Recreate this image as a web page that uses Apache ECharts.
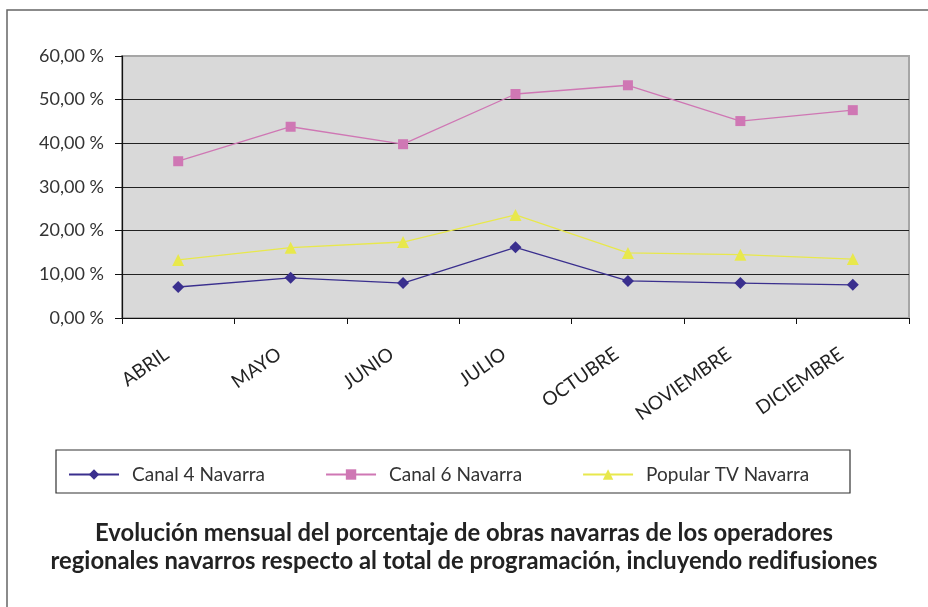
<!DOCTYPE html>
<html>
<head>
<meta charset="utf-8">
<script src="https://cdn.jsdelivr.net/npm/echarts@6/dist/echarts.min.js"></script>
<style>html,body{margin:0;padding:0;background:#fff}#c{width:928px;height:607px}</style>
</head>
<body>
<div id="c"></div>
<script>
const categories = ['ABRIL','MAYO','JUNIO','JULIO','OCTUBRE','NOVIEMBRE','DICIEMBRE'];
const canal4 = [7.1, 9.2, 8.0, 16.2, 8.5, 8.0, 7.6];
const canal6 = [35.9, 43.8, 39.8, 51.3, 53.3, 45.1, 47.6];
const popularTV = [13.3, 16.1, 17.4, 23.6, 14.9, 14.5, 13.5];
const seriesNames = ['Canal 4 Navarra','Canal 6 Navarra','Popular TV Navarra'];
const titleLines = ['Evolución mensual del porcentaje de obras navarras de los operadores','regionales navarros respecto al total de programación, incluyendo redifusiones'];

const FONT = 'Lato, "Open Sans", sans-serif';
const chart = echarts.init(document.getElementById('c'), null, {renderer:'canvas'});
const colors = ['#3a2f8e','#cf77b4','#e8e84c'];
chart.setOption({
  animation:false,
  backgroundColor:'#fff',
  grid:{left:122,right:19,top:56,bottom:289,show:true,backgroundColor:'#d9d9d9',borderColor:'#a6a6a6',borderWidth:2},
  xAxis:{
    type:'category', data:categories, boundaryGap:true,
    axisLine:{lineStyle:{color:'#111',width:1.2}},
    axisTick:{show:true,length:6,lineStyle:{color:'#111'}},
    axisLabel:{rotate:35,margin:26,fontSize:19,color:'#222',fontFamily:FONT,interval:0,padding:[0,14,0,0]}
  },
  yAxis:{
    type:'value', min:0, max:60, interval:10,
    axisLine:{show:true,lineStyle:{color:'#111',width:1.2}},
    axisTick:{show:true,length:7,lineStyle:{color:'#111'}},
    axisLabel:{margin:18,fontSize:18,color:'#333',fontFamily:FONT,
      formatter:v=>v.toFixed(2).replace('.',',')+' %'},
    splitLine:{show:true,lineStyle:{color:['#222','#222','#222','#222','#222','#222','#a6a6a6'],width:1.2}}
  },
  legend:{
    left:63, top:460, itemWidth:50, itemHeight:13, itemGap:60,
    textStyle:{fontSize:19,color:'#333',fontFamily:FONT,padding:[0,0,0,8]},
    data:seriesNames
  },
  series:[
    {name:seriesNames[0],type:'line',data:canal4,symbol:'diamond',symbolSize:12,
     itemStyle:{color:colors[0]},lineStyle:{color:colors[0],width:1.3}},
    {name:seriesNames[1],type:'line',data:canal6,symbol:'rect',symbolSize:10,
     itemStyle:{color:colors[1]},lineStyle:{color:colors[1],width:1.3}},
    {name:seriesNames[2],type:'line',data:popularTV,symbol:'triangle',symbolSize:12,
     itemStyle:{color:colors[2]},lineStyle:{color:colors[2],width:1.3}}
  ],
  graphic:[
    {type:'rect',shape:{x:7,y:10,width:940,height:620},style:{fill:null,stroke:'#666',lineWidth:1.5},silent:true,z:-1},
    {type:'rect',shape:{x:56,y:450,width:794,height:43},style:{fill:null,stroke:'#333',lineWidth:1.2},silent:true},
    {type:'text',x:464,y:519,style:{text:titleLines.join('\n'),textAlign:'center',font:'bold 23.8px '+FONT,fill:'#222',lineHeight:28}}
  ]
});
</script>
</body>
</html>
